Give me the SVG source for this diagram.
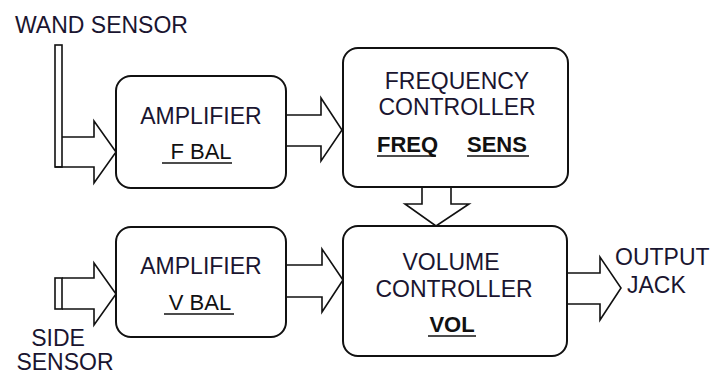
<svg xmlns="http://www.w3.org/2000/svg" width="720" height="375" viewBox="0 0 720 375">
<style>
.box{fill:#fff;stroke:#111;stroke-width:2}
.arr{fill:none;stroke:#111;stroke-width:1.6;stroke-linejoin:miter}
.t{font-family:"Liberation Sans",Arial,sans-serif;font-size:23px;fill:#1a1530}
.b{font-family:"Liberation Sans",Arial,sans-serif;font-size:22px;font-weight:bold;fill:#111}
.u{font-family:"Liberation Sans",Arial,sans-serif;font-size:22px;fill:#111}
.ul{stroke:#111;stroke-width:1.6}
</style>
<rect width="720" height="375" fill="#fff"/>
<g id="connectors">
<rect x="55" y="45" width="7" height="122" class="arr"/>
<polyline class="arr" points="62,137 94,137 94,121 116,152 94,183 94,167 55,167"/>
<rect x="55" y="278" width="7" height="31" class="arr"/>
<polyline class="arr" points="62,278 94,278 94,263 116,294 94,325 94,309 62,309"/>
<polyline class="arr" points="286,115 321,115 321,98 342,130 321,161 321,146 286,146"/>
<polyline class="arr" points="286,265 322,265 322,249 343,280 322,312 322,297 286,297"/>
<polyline class="arr" points="422,187 422,204 405,204 436,226 469,204 451,204 451,187"/>
<polyline class="arr" points="567,273 600,273 600,257 621,288 600,320 600,304 567,304"/>
</g>
<g id="wand-sensor">
<text class="t" x="15" y="33">WAND SENSOR</text>
</g>
<g id="side-sensor">
<text class="t" x="58" y="346" text-anchor="middle">SIDE</text>
<text class="t" x="65" y="370" text-anchor="middle">SENSOR</text>
</g>
<g id="amplifier-f">
<rect class="box" x="116" y="76" width="170" height="112" rx="15"/>
<text class="t" x="201" y="124" text-anchor="middle">AMPLIFIER</text>
<text class="u" x="201" y="159" text-anchor="middle">F BAL</text>
<line class="ul" x1="162" y1="163" x2="232" y2="163"/>
</g>
<g id="frequency-controller">
<rect class="box" x="343" y="48" width="225" height="139" rx="15"/>
<text class="t" x="457" y="89" text-anchor="middle">FREQUENCY</text>
<text class="t" x="457" y="115" text-anchor="middle">CONTROLLER</text>
<text class="b" x="377" y="152">FREQ</text>
<line class="ul" x1="377" y1="156" x2="436" y2="156"/>
<text class="b" x="467" y="152">SENS</text>
<line class="ul" x1="467" y1="156" x2="529" y2="156"/>
</g>
<g id="amplifier-v">
<rect class="box" x="116" y="227" width="170" height="110" rx="15"/>
<text class="t" x="201" y="274" text-anchor="middle">AMPLIFIER</text>
<text class="u" x="200" y="310" text-anchor="middle">V BAL</text>
<line class="ul" x1="164" y1="314" x2="234" y2="314"/>
</g>
<g id="volume-controller">
<rect class="box" x="343" y="226" width="224" height="130" rx="15"/>
<text class="t" x="451" y="270" text-anchor="middle">VOLUME</text>
<text class="t" x="454" y="297" text-anchor="middle">CONTROLLER</text>
<text class="b" x="452" y="332" text-anchor="middle">VOL</text>
<line class="ul" x1="428" y1="336" x2="476" y2="336"/>
</g>
<g id="output-jack">
<text class="t" x="615" y="265">OUTPUT</text>
<text class="t" x="627" y="293">JACK</text>
</g>
</svg>
